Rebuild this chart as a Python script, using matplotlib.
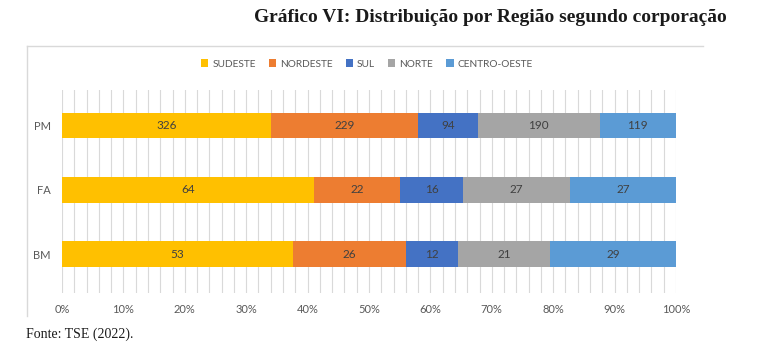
import numpy as np
import matplotlib
matplotlib.use("Agg")
from matplotlib import pyplot as plt
from matplotlib.lines import Line2D

# data
corporacoes = ["BM", "FA", "PM"]
regioes = ["SUDESTE", "NORDESTE", "SUL", "NORTE", "CENTRO-OESTE"]
sudeste = [53, 64, 326]
nordeste = [26, 22, 229]
sul = [12, 16, 94]
norte = [21, 27, 190]
centro_oeste = [29, 27, 119]
cores = ["#FFC000", "#ED7D31", "#4472C4", "#A5A5A5", "#5B9BD5"]

series = np.array([sudeste, nordeste, sul, norte, centro_oeste], dtype=float)
totais = series.sum(axis=0)
pct = series / totais

W, H = 766, 364
fig = plt.figure(figsize=(W / 100, H / 100), dpi=100)
ax = fig.add_axes([62 / W, 1 - 293 / H, (676 - 62) / W, (293 - 90) / H])

y = np.arange(len(corporacoes))
left = np.zeros(len(corporacoes))
for i, nome in enumerate(regioes):
    bars = ax.barh(y, pct[i], left=left, height=0.4, color=cores[i], label=nome, zorder=3)
    for j, b in enumerate(bars):
        ax.text(left[j] + pct[i][j] / 2, y[j], str(int(series[i][j])),
                ha="center", va="center", fontsize=8.5, color="#404040",
                family="Lato", zorder=4)
    left += pct[i]

ax.set_xlim(0, 1)
ax.set_ylim(-0.6, 2.55)
ax.set_xticks(np.arange(0, 1.01, 0.1))
ax.set_xticklabels([f"{int(v * 100)}%" for v in np.arange(0, 1.01, 0.1)])
ax.set_xticks(np.arange(0, 1.01, 0.02), minor=True)
ax.set_yticks(y)
ax.set_yticklabels(corporacoes)
ax.grid(axis="x", which="both", color="#D9D9D9", linewidth=0.8, zorder=0)
ax.tick_params(axis="both", which="both", length=0, colors="#595959", labelsize=8, pad=8)
for lab in ax.get_xticklabels() + ax.get_yticklabels():
    lab.set_family("Lato")
for s in ax.spines.values():
    s.set_visible(False)

leg = fig.legend(loc="center", bbox_to_anchor=(367 / W, 1 - 64 / H), ncol=5,
                 frameon=False, handlelength=0.7, handleheight=0.7,
                 handletextpad=0.4, columnspacing=1.3, prop={"family": "Lato", "size": 7.3})
for t in leg.get_texts():
    t.set_color("#595959")

# moldura do grafico (so esquerda e topo aparecem)
fig.add_artist(Line2D([27 / W, 703 / W], [1 - 46 / H, 1 - 46 / H], color="#D9D9D9", lw=1))
fig.add_artist(Line2D([27 / W, 27 / W], [1 - 46 / H, 1 - 316 / H], color="#D9D9D9", lw=1))

fig.text(727 / W, 1 - 18 / H, "Gráfico VI: Distribuição por Região segundo corporação",
         ha="right", va="center", fontsize=14, fontweight="bold",
         family="Liberation Serif", color="#1a1a1a")
fig.text(26 / W, 1 - 334 / H, "Fonte: TSE (2022).", ha="left", va="center",
         fontsize=10, family="Liberation Serif", color="#1a1a1a")

fig.savefig("out.png", dpi=100, facecolor="white")
